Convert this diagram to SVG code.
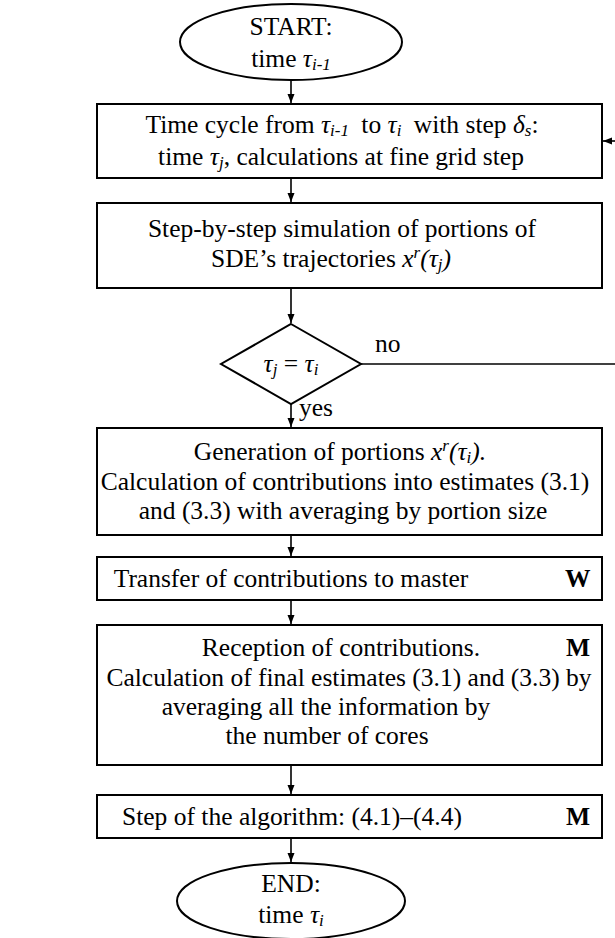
<svg xmlns="http://www.w3.org/2000/svg" width="615" height="938" viewBox="0 0 615 938">
<style>
.n{fill:#fff;stroke:#000;stroke-width:2}
.t{font-family:"Liberation Serif","Times New Roman",serif;font-size:25.5px;fill:#000}
.c{text-anchor:middle}
.i{font-style:italic}
.s{font-size:17px}
.b{font-weight:bold}
.e{fill:none;stroke:#000;stroke-width:1.6}
</style>
<defs>
<marker id="ah" markerWidth="9" markerHeight="8" refX="9" refY="4" orient="auto" markerUnits="userSpaceOnUse"><path d="M0,0.5 L9,4 L0,7.5 z" fill="#000"/></marker>
</defs>
<rect width="615" height="938" fill="#fff"/>
<g id="connectors">
<path class="e" d="M291,80 V103" marker-end="url(#ah)"/>
<path class="e" d="M291,178 V202" marker-end="url(#ah)"/>
<path class="e" d="M291,288 V323" marker-end="url(#ah)"/>
<path class="e" d="M361,364 H615"/>
<path class="e" d="M615,141 H603" marker-end="url(#ah)"/>
<path class="e" d="M291,404 V427" marker-end="url(#ah)"/>
<path class="e" d="M291,535 V556" marker-end="url(#ah)"/>
<path class="e" d="M291,600 V624" marker-end="url(#ah)"/>
<path class="e" d="M291,765 V794" marker-end="url(#ah)"/>
<path class="e" d="M291,838 V862" marker-end="url(#ah)"/>
<text class="t" x="375" y="352">no</text>
<text class="t" x="299" y="416">yes</text>
</g>
<g id="start">
<ellipse class="n" cx="291" cy="42" rx="111" ry="38"/>
<text class="t c" x="291" y="35">START:</text>
<text class="t c" x="291" y="67">time <tspan class="i">τ</tspan><tspan class="i s" dy="3">i-1</tspan></text>
</g>
<g id="cycle">
<rect class="n" x="97" y="104" width="505" height="74"/>
<text class="t c" x="342" y="133">Time cycle from <tspan class="i">τ</tspan><tspan class="i s" dy="3">i-1</tspan><tspan dy="-3" dx="6"> to </tspan><tspan class="i">τ</tspan><tspan class="i s" dy="3">i</tspan><tspan dy="-3" dx="6"> with step </tspan><tspan class="i">δ</tspan><tspan class="i s" dy="3">s</tspan><tspan dy="-3">:</tspan></text>
<text class="t c" x="341" y="165">time <tspan class="i">τ</tspan><tspan class="i s" dy="3">j</tspan><tspan dy="-3">, calculations at fine grid step</tspan></text>
</g>
<g id="simulation">
<rect class="n" x="97" y="203" width="505" height="85"/>
<text class="t c" x="342" y="237">Step-by-step simulation of portions of</text>
<text class="t c" x="331" y="267">SDE’s trajectories <tspan class="i">x</tspan><tspan class="i s" dy="-9">r</tspan><tspan class="i" dy="9">(τ</tspan><tspan class="i s" dy="3">j</tspan><tspan class="i" dy="-3">)</tspan></text>
</g>
<g id="check">
<polygon class="n" points="291,324 361,364 291,404 221,364"/>
<text class="t c" x="291" y="372"><tspan class="i">τ</tspan><tspan class="i s" dy="3">j</tspan><tspan dy="-3"> = </tspan><tspan class="i">τ</tspan><tspan class="i s" dy="3">i</tspan></text>
</g>
<g id="generation">
<rect class="n" x="97" y="428" width="505" height="107"/>
<text class="t c" x="340" y="460">Generation of portions <tspan class="i">x</tspan><tspan class="i s" dy="-9">r</tspan><tspan class="i" dy="9">(τ</tspan><tspan class="i s" dy="3">i</tspan><tspan class="i" dy="-3">).</tspan></text>
<text class="t c" x="345" y="490">Calculation of contributions into estimates (3.1)</text>
<text class="t c" x="343" y="519">and (3.3) with averaging by portion size</text>
</g>
<g id="transfer">
<rect class="n" x="97" y="557" width="505" height="43"/>
<text class="t c" x="291" y="587">Transfer of contributions to master</text>
<text class="t b" x="565" y="587">W</text>
</g>
<g id="reception">
<rect class="n" x="97" y="625" width="505" height="140"/>
<text class="t c" x="341" y="656">Reception of contributions.</text>
<text class="t b" x="566" y="656">M</text>
<text class="t c" x="349" y="686">Calculation of final estimates (3.1) and (3.3) by</text>
<text class="t c" x="326" y="715">averaging all the information by</text>
<text class="t c" x="327" y="744">the number of cores</text>
</g>
<g id="step">
<rect class="n" x="97" y="795" width="505" height="43"/>
<text class="t c" x="292" y="825">Step of the algorithm: (4.1)–(4.4)</text>
<text class="t b" x="566" y="825">M</text>
</g>
<g id="end">
<ellipse class="n" cx="291" cy="901" rx="114" ry="38"/>
<text class="t c" x="291" y="892">END:</text>
<text class="t c" x="291" y="923">time <tspan class="i">τ</tspan><tspan class="i s" dy="3">i</tspan></text>
</g>
</svg>
